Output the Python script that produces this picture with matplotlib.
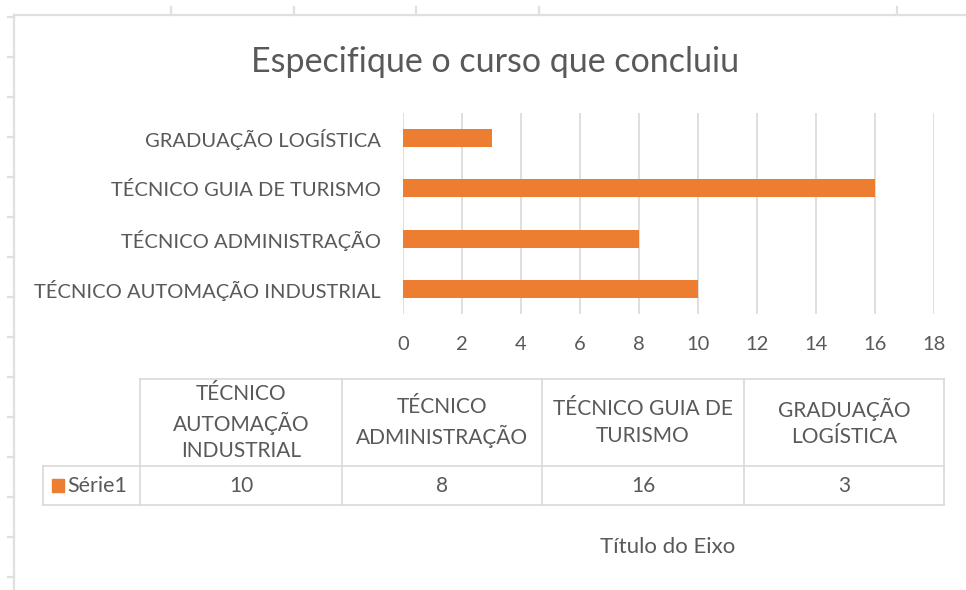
import textwrap
import numpy as np
import matplotlib.pyplot as plt
from matplotlib.lines import Line2D
from matplotlib.patches import Rectangle

plt.rcParams['font.family'] = ['Lato', 'DejaVu Sans']

title = 'Especifique o curso que concluiu'
categories = ['TÉCNICO AUTOMAÇÃO INDUSTRIAL', 'TÉCNICO ADMINISTRAÇÃO',
              'TÉCNICO GUIA DE TURISMO', 'GRADUAÇÃO LOGÍSTICA']
values = [10, 8, 16, 3]
series_name = 'Série1'
xticks = list(range(0, 19, 2))
axis_title = 'Título do Eixo'

bar_color = '#ED7D31'
text_color = '#595959'
grid_color = '#D9D9D9'

W, H = 966, 590
fig = plt.figure(figsize=(W / 100, H / 100), dpi=100)


def fx(px):
    return px / W


def fy(py):
    return 1 - py / H


def hline(x0, x1, y, **kw):
    fig.add_artist(Line2D([fx(x0), fx(x1)], [fy(y), fy(y)], transform=fig.transFigure, **kw))


def vline(x, y0, y1, **kw):
    fig.add_artist(Line2D([fx(x), fx(x)], [fy(y0), fy(y1)], transform=fig.transFigure, **kw))


# spreadsheet frame bits around the chart
frame = dict(color='#E0E0E0', lw=1.6)
hline(14, W, 15, **frame)
vline(14, 15, H, **frame)
for x in [171, 294, 416, 539, 897]:
    vline(x, 7, 15, **frame)
for y in range(17, H, 40):
    hline(8, 14, y, **frame)

# bar chart
ax = fig.add_axes([fx(403), fy(314), fx(934) - fx(403), fy(113) - fy(314)])
ypos = np.arange(len(categories))
ax.barh(ypos, values, height=0.36, color=bar_color, zorder=3)
ax.set_xlim(0, 18)
ax.set_ylim(-0.5, len(categories) - 0.5)
ax.set_xticks(xticks)
ax.set_yticks(ypos)
ax.set_yticklabels(categories)
ax.grid(axis='x', color=grid_color, lw=1.2, zorder=0)
for s in ax.spines.values():
    s.set_visible(False)
ax.tick_params(axis='x', length=0, pad=16, labelsize=14.5, labelcolor=text_color)
ax.tick_params(axis='y', length=0, pad=16, labelsize=14.5, labelcolor=text_color)

fig.text(fx(495), fy(62), title, ha='center', va='center', fontsize=24.5, color=text_color)

# data table
tcol = '#D9D9D9'
col_x = [140, 342, 542, 744, 944]
top, mid, bot = 379, 466, 505
left = 43
hline(col_x[0], col_x[-1], top, color=tcol, lw=1.2)
hline(left, col_x[-1], mid, color=tcol, lw=1.2)
hline(left, col_x[-1], bot, color=tcol, lw=1.2)
vline(left, mid, bot, color=tcol, lw=1.2)
for x in col_x:
    vline(x, top, bot, color=tcol, lw=1.2)

for i, (cat, val) in enumerate(zip(categories, values)):
    cx = (col_x[i] + col_x[i + 1]) / 2
    fig.text(fx(cx), fy((top + mid) / 2), '\n'.join(textwrap.wrap(cat, 15)),
             ha='center', va='center', fontsize=15, color=text_color, linespacing=1.38)
    fig.text(fx(cx), fy((mid + bot) / 2), str(val), ha='center', va='center',
             fontsize=15, color=text_color)

fig.add_artist(Rectangle((fx(52), fy(492)), fx(12), 13 / H, transform=fig.transFigure,
                         color=bar_color))
fig.text(fx(67), fy((mid + bot) / 2), series_name, ha='left', va='center',
         fontsize=15.5, color=text_color)

fig.text(fx(668), fy(547), axis_title, ha='center', va='center', fontsize=16, color=text_color)

fig.savefig('out.png', dpi=100)
